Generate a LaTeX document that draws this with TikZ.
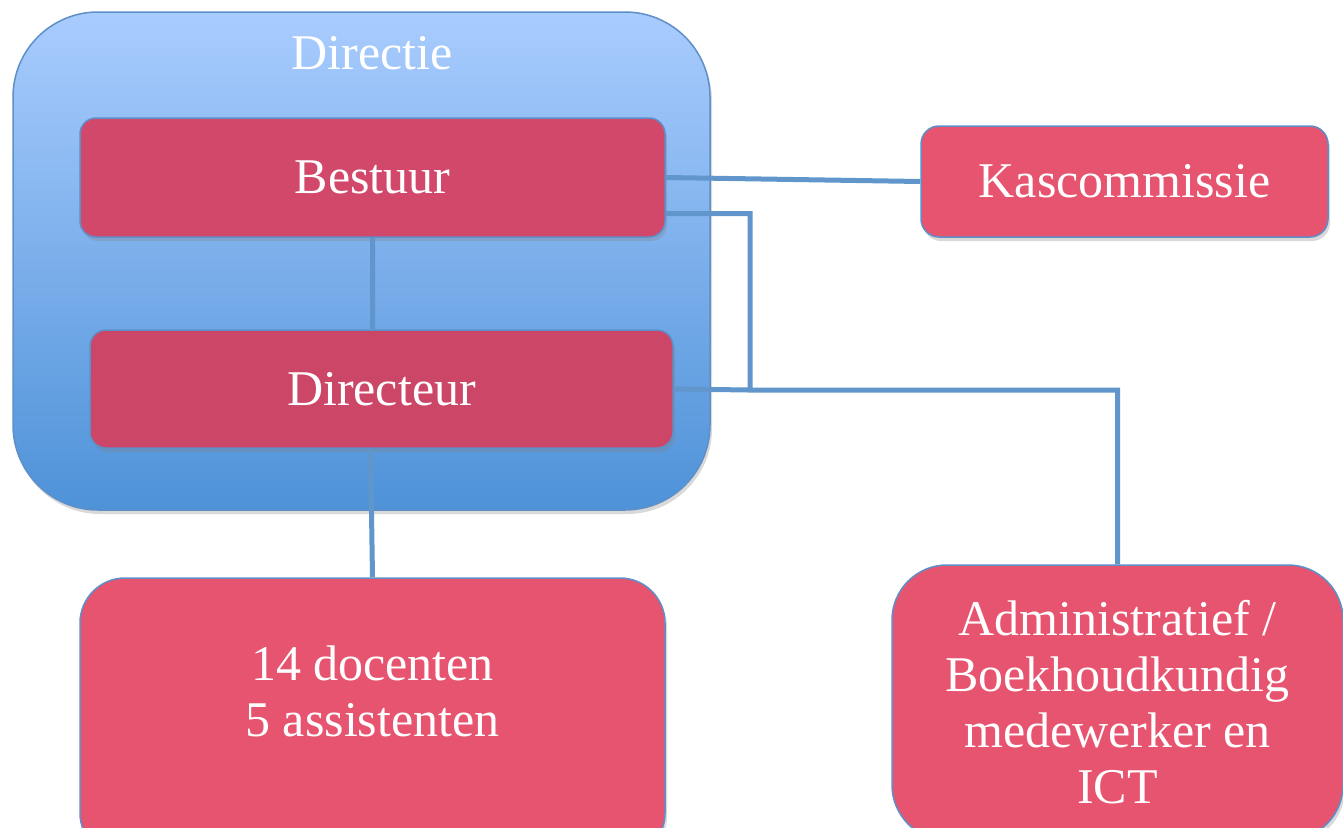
\documentclass[tikz,border=0pt]{standalone}
\usepackage{fontspec}
\setmainfont{Liberation Serif}
\usetikzlibrary{shadows}
\definecolor{dirtop}{HTML}{A9CCFE}
\definecolor{dirbot}{HTML}{4E92D8}
\definecolor{rim}{HTML}{5E8FC8}
\definecolor{wire}{HTML}{6096CB}
\definecolor{rose}{HTML}{E65470}
\definecolor{deeprose}{HTML}{D2486B}
\begin{document}
\begin{tikzpicture}
  [x=1pt,y=-1pt,
   every node/.style={rectangle,draw=rim,line width=1.5pt,text=white,align=center,
     inner sep=0pt,font=\fontsize{50}{56}\selectfont},
   boxed/.style={drop shadow={opacity=.3,shadow xshift=2pt,shadow yshift=-4pt}},
   tag/.style={draw=none,fill=none}]
  \useasboundingbox (0,0) rectangle (1343,827);
  \clip (0,0) rectangle (1343,827);

  \node[boxed,top color=dirtop,bottom color=dirbot,rounded corners=85pt,
    minimum width=697pt,minimum height=498pt] (directie) at (361.5,261) {};
  \node[tag] (dirlabel) at (372,53) {Directie};

  \node[boxed,fill=deeprose,rounded corners=16pt,minimum width=585pt,minimum height=119pt]
    (bestuur) at (372.5,177.5) {Bestuur};
  \node[boxed,fill=deeprose!97!black,rounded corners=16pt,minimum width=583pt,minimum height=118pt]
    (directeur) at (381.5,389) {Directeur};
  \node[boxed,fill=rose,rounded corners=18pt,minimum width=407pt,minimum height=111pt]
    (kas) at (1124.5,181.5) {Kascommissie};
  \node[boxed,fill=rose,rounded corners=45pt,minimum width=585pt,minimum height=280pt]
    (docenten) at (372.5,718) {};
  \node[tag] (doclabel) at (372.5,691) {14 docenten\\5 assistenten};
  \node[boxed,fill=rose,rounded corners=55pt,minimum width=451pt,minimum height=275pt]
    (admin) at (1117.5,702.5) {Administratief /\\Boekhoudkundig\\medewerker en\\ICT};

  \coordinate (elbow) at (750,390);

  \path[draw,wire,line width=5pt]
     (bestuur.south) -- (bestuur.south |- directeur.north)
     ([xshift=-11pt]directeur.south) -- (docenten.north)
     (bestuur.east) -- (kas.west)
     ([yshift=-36pt]bestuur.east) -| (elbow) -| (admin.north)
     (directeur.east) -- (elbow);
\end{tikzpicture}
\end{document}
